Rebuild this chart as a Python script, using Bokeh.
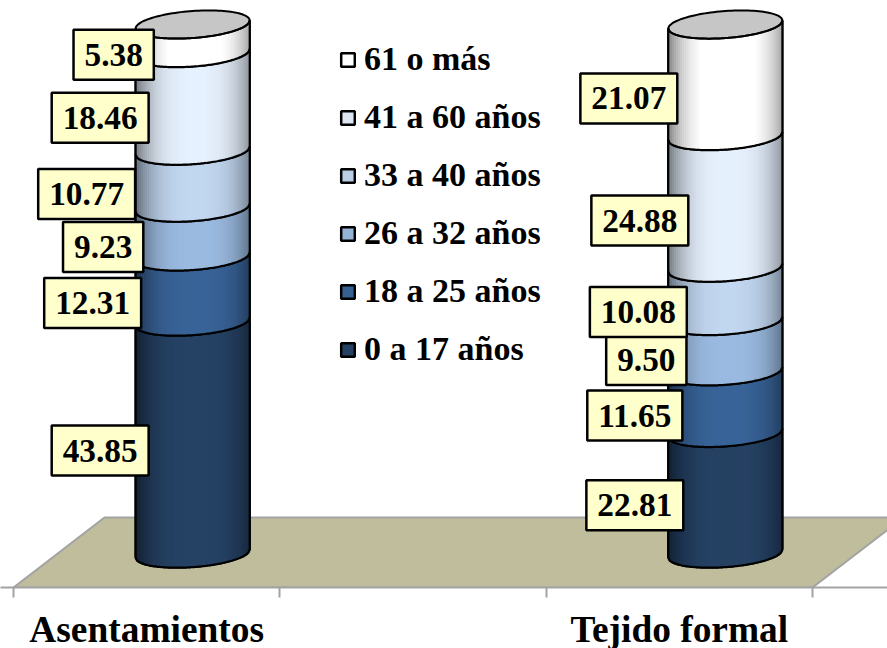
from bokeh.plotting import figure
from bokeh.models import Range1d, FixedTicker, Legend, LegendItem, LinearAxis
from bokeh.core.properties import value
from bokeh.embed import file_html
from bokeh.resources import INLINE
import numpy as np

# ---- data ----
categories = ["Asentamientos", "Tejido formal"]
series = ["0 a 17 años", "18 a 25 años", "26 a 32 años", "33 a 40 años", "41 a 60 años", "61 o más"]
asentamientos = [43.85, 12.31, 9.23, 10.77, 18.46, 5.38]
tejido_formal = [22.81, 11.65, 9.50, 10.08, 24.88, 21.07]
value_labels_a = ["43.85", "12.31", "9.23", "10.77", "18.46", "5.38"]
value_labels_t = ["22.81", "11.65", "9.50", "10.08", "24.88", "21.07"]
colors = ["#254061", "#376092", "#95b3d7", "#b9cde5", "#dce6f2", "#ffffff"]

# ---- layout / style ----
W, H, FRAME_H = 887, 648, 587
PX_PER_SLOT = 266.33
PX_PER_VAL = 5.29
X0 = -13 / PX_PER_SLOT
X1 = X0 + W / PX_PER_SLOT
Y_BOTTOM = -34 / PX_PER_VAL
Y_TOP = Y_BOTTOM + FRAME_H / PX_PER_VAL
DEPTH_X = 91 / PX_PER_SLOT
DEPTH_Y = 70 / PX_PER_VAL
SHIFT = 46 / PX_PER_SLOT
A_PX, B_PX, S_PX = 57, 13.5, 4
FONT = "Liberation Serif"

dx_a = [-92.5, -100, -89.5, -106, -92.5, -79]
dy_a = [13, 14, 15, 15, 16, 16]
dx_t = [-90.5, -90.5, -79, -87, -85.5, -96.5]
dy_t = [12, 13.5, 14, 17.7, 18.7, 18.2]


def shade(hex_color, f):
    r, g, b = [int(hex_color[i:i + 2], 16) for i in (1, 3, 5)]
    return "#%02x%02x%02x" % (min(255, int(r * f)), min(255, int(g * f)), min(255, int(b * f)))


def arc_offset(u):
    """value offset of the front arc at relative position u (-1..1)"""
    return -(B_PX * np.sqrt(np.clip(1 - u * u, 0, 1)) - S_PX * u) / PX_PER_VAL


p = figure(width=W, height=H, frame_width=W, frame_height=FRAME_H, output_backend="svg", toolbar_location=None,
           x_range=Range1d(X0, X1), y_range=Range1d(Y_BOTTOM, Y_TOP),
           min_border=0, min_border_left=0, min_border_right=0, min_border_top=0, min_border_bottom=0,
           outline_line_color=None, x_axis_location=None, y_axis_location=None)
p.grid.visible = False
p.background_fill_color = "#ffffff"

# floor
p.patch([0, 3, 3 + DEPTH_X, DEPTH_X], [Y_BOTTOM, Y_BOTTOM, Y_BOTTOM + DEPTH_Y, Y_BOTTOM + DEPTH_Y],
        fill_color="#bfbd9b", line_color="#a3a3a3", line_width=2)

# axis
ax = LinearAxis(ticker=FixedTicker(ticks=[0.5, 2.5], minor_ticks=[0, 1, 2, 3]),
                major_label_overrides={0.5: categories[0], 2.5: categories[1]})
ax.axis_line_color = "#a3a3a3"
ax.axis_line_width = 2
ax.major_tick_line_color = None
ax.major_tick_out = 10
ax.major_tick_in = 0
ax.minor_tick_line_color = "#a3a3a3"
ax.minor_tick_line_width = 2
ax.minor_tick_out = 10
ax.minor_tick_in = 0
ax.major_label_text_font = FONT
ax.major_label_text_font_style = "bold"
ax.major_label_text_font_size = "37.4px"
ax.major_label_text_color = "#000000"
ax.major_label_standoff = 11
p.add_layout(ax, "below")

centers = [0.5 + SHIFT, 2.5 + SHIFT]
cols = [asentamientos, tejido_formal]
a_slot = A_PX / PX_PER_SLOT
N = 57
us = np.linspace(-1, 1, N + 1)
arc_u = np.linspace(-1, 1, 81)
legend_items = []
outline_x, outline_y = [], []
strips_by_series = [dict(xs=[], ys=[], c=[]) for _ in series]
sil_by_series = [dict(xs=[], ys=[]) for _ in series]

for cx, col in zip(centers, cols):
    cum = np.concatenate([[0], np.cumsum(col)])
    for i in range(len(col)):
        v0, v1 = cum[i], cum[i + 1]
        for j in range(N):
            ua, ub = us[j], us[j + 1]
            um = (ua + ub) / 2
            f = 1.05 - 0.47 * abs(um - 0.05) ** 3
            xa, xb = cx + ua * a_slot, cx + ub * a_slot
            strips_by_series[i]["xs"].append([xa, xb, xb, xa])
            strips_by_series[i]["ys"].append([v0 + arc_offset(ua), v0 + arc_offset(ub),
                                              v1 + arc_offset(ub), v1 + arc_offset(ua)])
            strips_by_series[i]["c"].append(shade(colors[i], f))
        ax_ = cx + arc_u * a_slot
        sil_by_series[i]["xs"].append(list(ax_) + list(ax_[::-1]))
        sil_by_series[i]["ys"].append(list(v0 + arc_offset(arc_u)) + list((v1 + arc_offset(arc_u))[::-1]))
    # arcs
    for c in cum:
        outline_x.append(list(cx + arc_u * a_slot))
        outline_y.append(list(c + arc_offset(arc_u)))
    # sides
    outline_x += [[cx - a_slot, cx - a_slot], [cx + a_slot, cx + a_slot]]
    outline_y += [[arc_offset(-1.0), cum[-1] + arc_offset(-1.0)], [arc_offset(1.0), cum[-1] + arc_offset(1.0)]]

for i, name in enumerate(series):
    r = p.patches(sil_by_series[i]["xs"], sil_by_series[i]["ys"], fill_color=colors[i],
                  line_color="#000000", line_width=2.5)
    legend_items.append(LegendItem(label=name, renderers=[r]))
    s = strips_by_series[i]
    p.patches("xs", "ys", source=dict(xs=s["xs"], ys=s["ys"], c=s["c"]), fill_color="c", line_color="c", line_width=0.6)

# top caps
t = np.linspace(0, 2 * np.pi, 121)
for cx, col in zip(centers, cols):
    top = sum(col)
    p.patch(cx + np.cos(t) * a_slot,
            top + (B_PX * np.sin(t) + S_PX * np.cos(t)) / PX_PER_VAL,
            fill_color="#c6c6c6", line_color="#000000", line_width=2)

p.multi_line(outline_x, outline_y, line_color="#000000", line_width=2)

# value labels
for cx, col, labs, dxs, dys in [(centers[0], asentamientos, value_labels_a, dx_a, dy_a),
                                (centers[1], tejido_formal, value_labels_t, dx_t, dy_t)]:
    cum = np.concatenate([[0], np.cumsum(col)])
    mids = (cum[:-1] + cum[1:]) / 2
    p.text(x=[cx] * len(col), y=list(mids), text=labs, x_offset=dxs, y_offset=dys,
           text_align="center", text_baseline="middle",
           text_font=value(FONT), text_font_style="bold", text_font_size="33.3px", text_color="#000000",
           background_fill_color="#ffffcc", border_line_color="#000000", border_line_width=2.5,
           padding=(11, 14))

# legend
legend = Legend(items=legend_items[::-1], location=(339, 219), orientation="vertical",
                border_line_color=None, background_fill_alpha=0, padding=0, margin=0,
                glyph_width=17, glyph_height=17, label_height=38, spacing=20, label_standoff=8,
                label_text_font=FONT, label_text_font_style="bold", label_text_font_size="34px",
                label_text_color="#000000")
p.add_layout(legend, "center")

open("out.html", "w").write(file_html(p, INLINE))
